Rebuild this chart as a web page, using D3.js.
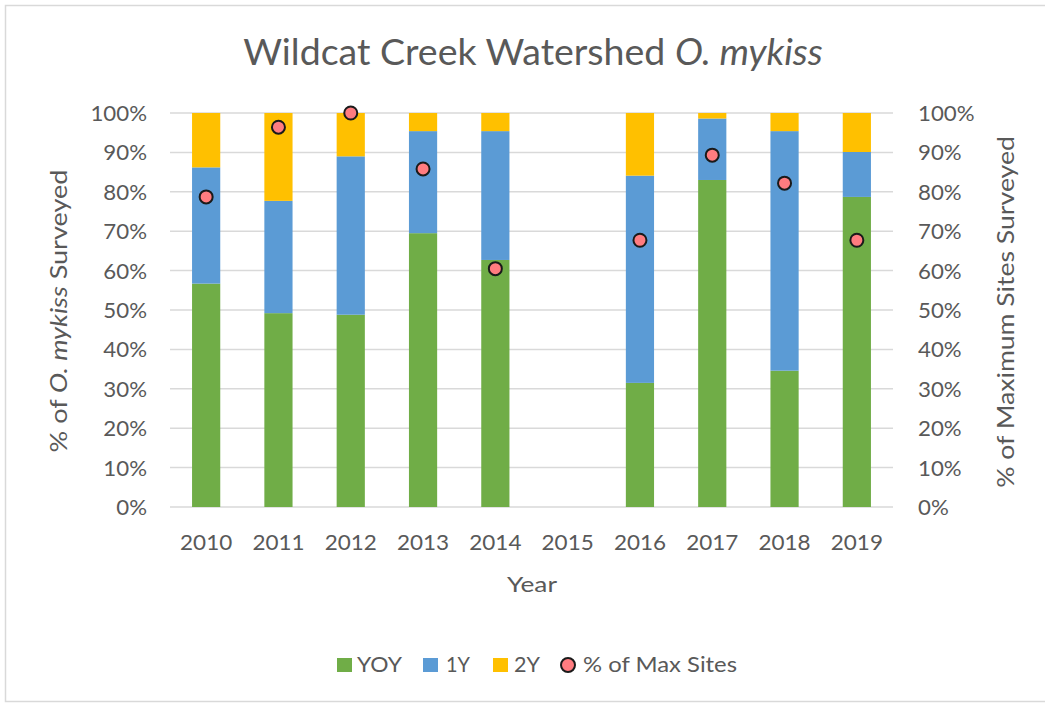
<!DOCTYPE html>
<html>
<head>
<meta charset="utf-8">
<script src="https://cdn.jsdelivr.net/npm/d3@7"></script>
<style>
  html, body { margin: 0; padding: 0; background: #fff; }
  svg { display: block; }
  text { font-family: Lato, Carlito, Calibri, sans-serif; fill: #595959; }
</style>
</head>
<body>
<svg id="chart" width="1045" height="703"></svg>
<script>
const years = ["2010","2011","2012","2013","2014","2015","2016","2017","2018","2019"];
const yoy   = [56.7, 49.2, 48.8, 69.5, 62.7, null, 31.5, 83.0, 34.6, 78.7];
const oneY  = [29.5, 28.5, 40.2, 25.9, 32.7, null, 52.6, 15.6, 60.8, 11.4];
const twoY  = [13.8, 22.3, 11.0,  4.6,  4.6, null, 15.9,  1.4,  4.6,  9.9];
const maxSites = [78.7, 96.4, 100, 85.8, 60.5, null, 67.7, 89.3, 82.2, 67.7];
const yTicks = [0,10,20,30,40,50,60,70,80,90,100];
const seriesNames = ["YOY","1Y","2Y"];
const colors = ["#70AD47","#5B9BD5","#FFC000"];

const svg = d3.select("#chart");
svg.append("rect").attr("x",5.5).attr("y",5.5).attr("width",1045).attr("height",696)
  .attr("fill","none").attr("stroke","#d9d9d9").attr("stroke-width",1.5);

const pLeft = 170, pRight = 893, pTop = 113, pBottom = 507;
const x = d3.scaleBand().domain(years).range([pLeft,pRight]).paddingInner(0.61).paddingOuter(0.305);
const y = d3.scaleLinear().domain([0,100]).range([pBottom, pTop]);
const y2 = d3.scaleLinear().domain([0,100]).range([pBottom, pTop]);

function stretch(sel, f) {
  sel.each(function(){
    const w = this.getComputedTextLength();
    d3.select(this).attr("textLength", w*f).attr("lengthAdjust","spacingAndGlyphs");
  });
}

svg.append("g").selectAll("line").data(yTicks).join("line")
  .attr("x1",pLeft).attr("x2",pRight)
  .attr("y1",d=>y(d)).attr("y2",d=>y(d))
  .attr("stroke","#d9d9d9").attr("stroke-width",1.5);

const rows = years.map((yr,i)=>({year:yr, YOY:yoy[i]||0, "1Y":oneY[i]||0, "2Y":twoY[i]||0}));
const stack = d3.stack().keys(seriesNames)(rows);
svg.append("g").selectAll("g").data(stack).join("g")
  .attr("fill",(d,i)=>colors[i])
  .selectAll("rect").data(d=>d).join("rect")
  .attr("x",d=>x(d.data.year)).attr("width",x.bandwidth())
  .attr("y",d=>y(d[1])).attr("height",d=>y(d[0])-y(d[1]));

svg.append("g").selectAll("circle")
  .data(years.map((yr,i)=>({year:yr,v:maxSites[i]})).filter(d=>d.v!=null))
  .join("circle")
  .attr("cx",d=>x(d.year)+x.bandwidth()/2).attr("cy",d=>y2(d.v)).attr("r",6.5)
  .attr("fill","#FF7C80").attr("stroke","#1a1a1a").attr("stroke-width",2);

const fmt = d=>d+"%";
function styleAxis(g, size, f, dy) {
  g.select(".domain").remove();
  const t = g.selectAll("text").attr("font-size",size).style("fill","#595959")
    .attr("font-family","Lato, Carlito, Calibri, sans-serif");
  if (dy) t.attr("dy", dy);
  stretch(t, f);
}
const gL = svg.append("g").attr("transform",`translate(${pLeft},0)`)
  .call(d3.axisLeft(y).tickValues(yTicks).tickFormat(fmt).tickSize(0).tickPadding(23));
styleAxis(gL, 21, 1.06, "0.36em");

const gR = svg.append("g").attr("transform",`translate(${pRight},0)`)
  .call(d3.axisRight(y2).tickValues(yTicks).tickFormat(fmt).tickSize(0).tickPadding(25));
styleAxis(gR, 21, 1.06, "0.36em");

const gX = svg.append("g").attr("transform",`translate(0,${pBottom})`)
  .call(d3.axisBottom(x).tickSize(0).tickPadding(28));
styleAxis(gX, 21, 1.07);

const tg = svg.append("g");
const title = tg.append("text").attr("x",0).attr("y",0).attr("text-anchor","middle").attr("font-size",36);
title.append("tspan").text("Wildcat Creek Watershed ");
title.append("tspan").attr("font-style","italic").text("O. mykiss");
tg.attr("transform",`translate(533,65) scale(${580/title.node().getComputedTextLength()},1)`);

const yr = svg.append("text").attr("x",532).attr("y",592).attr("text-anchor","middle").attr("font-size",22).text("Year");
yr.attr("textLength",50).attr("lengthAdjust","spacingAndGlyphs");

const lg1 = svg.append("g");
const lt = lg1.append("text").attr("text-anchor","middle").attr("font-size",23);
lt.append("tspan").text("% of ");
lt.append("tspan").attr("font-style","italic").text("O. mykiss");
lt.append("tspan").text(" Surveyed");
lg1.attr("transform",`translate(67,311) rotate(-90) scale(${283/lt.node().getComputedTextLength()},1)`);

const rg1 = svg.append("g");
const rt = rg1.append("text").attr("text-anchor","middle").attr("font-size",23).text("% of Maximum Sites Surveyed");
rg1.attr("transform",`translate(1014,312) rotate(-90) scale(${352/rt.node().getComputedTextLength()},1)`);

const legendItems = [
  {name:"YOY", type:"rect", color:colors[0], x:337, tx:357, w:45},
  {name:"1Y", type:"rect", color:colors[1], x:423, tx:446, w:24},
  {name:"2Y", type:"rect", color:colors[2], x:493, tx:514, w:26},
  {name:"% of Max Sites", type:"circle", color:"#FF7C80", x:560, tx:583, w:154}
];
const lg = svg.append("g");
legendItems.forEach(it=>{
  if (it.type==="rect") {
    lg.append("rect").attr("x",it.x).attr("y",658).attr("width",15).attr("height",14).attr("fill",it.color);
  } else {
    lg.append("circle").attr("cx",it.x+8).attr("cy",665).attr("r",7).attr("fill",it.color).attr("stroke","#1a1a1a").attr("stroke-width",2);
  }
  lg.append("text").attr("x",it.tx).attr("y",672).attr("font-size",21).text(it.name)
    .attr("textLength",it.w).attr("lengthAdjust","spacingAndGlyphs");
});
</script>
</body>
</html>
